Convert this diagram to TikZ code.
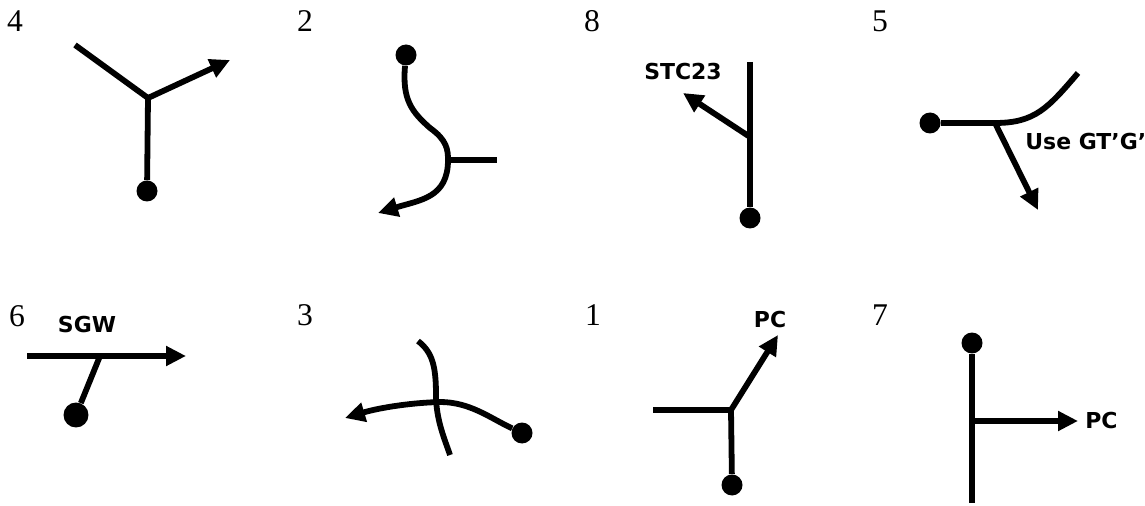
\documentclass[tikz,border=0pt]{standalone}
\usepackage{fontspec}
\setmainfont{Liberation Serif}
\newfontfamily\etiqfont{DejaVu Sans}
\usetikzlibrary{arrows.meta}

\begin{document}
\begin{tikzpicture}[x=0.02cm, y=-0.02cm]
\tikzset{numero/.style={font=\fontsize{18}{18}\selectfont, inner sep=0pt},
         etiq/.style={font=\etiqfont\bfseries\fontsize{12.5}{13}\selectfont, inner sep=0pt},
         pointe/.style={circle, fill, inner sep=0pt, minimum size=0.42cm},
         brin/.style={line width=3.3pt},
         fleche/.style={brin, -{Triangle[length=0.4cm, width=0.38cm]}}}
\useasboundingbox (0, 0) rectangle (1145, 506);
% 4
\node[numero] (N4) at (15, 21) {4};
\coordinate (J4) at (148, 98);
\coordinate (A4) at (75, 45);
\coordinate (B4) at (230, 60);
\node[pointe] (P4) at (147, 191) {};
\draw[brin] (A4) -- (J4) -- (P4);
\draw[fleche] (J4) -- (B4);
% 2
\node[numero] (N2) at (305, 21) {2};
\node[pointe] (P2) at (406, 55) {};
\coordinate (J2) at (448, 160);
\coordinate (S2) at (497, 160);
\coordinate (B2) at (378, 213);
\draw[brin] (P2) .. controls (402, 100) and (412, 112) .. (430, 128)
  .. controls (447, 140) and (448, 150) .. (J2);
\draw[fleche] (J2) .. controls (448, 198) and (420, 200) .. (B2);
\draw[brin] (J2) -- (S2);
% 8
\node[numero] (N8) at (592, 21) {8};
\node[pointe] (P8) at (750, 218) {};
\coordinate (H8) at (750, 62);
\coordinate (J8) at (750, 137);
\coordinate (B8) at (683, 93);
\draw[brin] (H8) -- (P8);
\draw[fleche] (J8) -- (B8);
\node[etiq] (L8) at (683, 72) {STC23};
% 5
\node[numero] (N5) at (880, 21) {5};
\node[pointe] (P5) at (930, 123) {};
\coordinate (J5) at (995, 123);
\coordinate (H5) at (1078, 73);
\coordinate (B5) at (1038, 210);
\draw[brin] (P5) -- (J5) .. controls (1035, 123) and (1048, 108) .. (H5);
\draw[fleche] (J5) -- (B5);
\node[etiq, anchor=west] (L5) at (1025, 142) {Use GT’G’};
% 6
\node[numero] (N6) at (17, 316) {6};
\node[etiq] (L6) at (87, 325) {SGW};
\coordinate (A6) at (27, 356);
\coordinate (B6) at (186, 356);
\coordinate (J6) at (100, 356);
\node[pointe, minimum size=0.5cm] (P6) at (76, 415) {};
\draw[fleche] (A6) -- (B6);
\draw[brin] (J6) -- (P6);
% 3
\node[numero] (N3) at (305, 315) {3};
\coordinate (H3) at (418, 341);
\coordinate (K3) at (450, 455);
\node[pointe] (P3) at (522, 433) {};
\coordinate (B3) at (345, 418);
\draw[brin] (H3) .. controls (432, 352) and (436, 365) .. (436, 395)
  .. controls (436, 420) and (445, 440) .. (K3);
\draw[fleche] (P3) .. controls (490, 418) and (470, 402) .. (440, 402)
  .. controls (405, 403) and (375, 409) .. (B3);
% 1
\node[numero] (N1) at (593, 315) {1};
\node[etiq] (L1) at (770, 320) {PC};
\coordinate (J1) at (731, 410);
\coordinate (A1) at (653, 410);
\coordinate (B1) at (778, 335);
\node[pointe] (P1) at (732, 485) {};
\draw[brin] (A1) -- (J1) -- (P1);
\draw[fleche] (J1) -- (B1);
% 7
\node[numero] (N7) at (880, 315) {7};
\node[pointe] (P7) at (972, 343) {};
\coordinate (K7) at (972, 503);
\coordinate (J7) at (972, 421);
\coordinate (B7) at (1078, 421);
\draw[brin] (P7) -- (K7);
\draw[fleche] (J7) -- (B7);
\node[etiq, anchor=west] (L7) at (1085, 421) {PC};
\end{tikzpicture}
\end{document}
